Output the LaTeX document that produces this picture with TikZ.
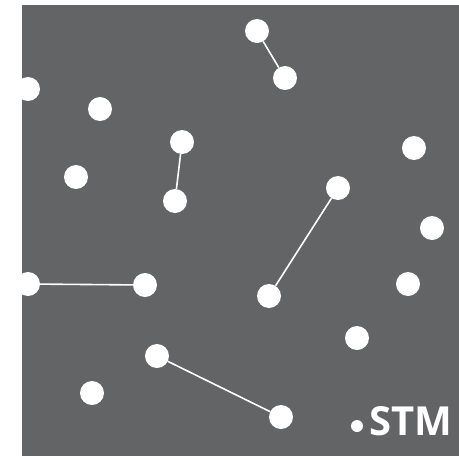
\documentclass[tikz,border=0pt]{standalone}
\usepackage{fontspec}
\setsansfont{Open Sans}
\usetikzlibrary{positioning}
\definecolor{slate}{RGB}{99,100,102}
\tikzset{
  dot/.style={circle, fill=white, inner sep=0pt, minimum size=24pt},
  bond/.style={draw=white, line width=1.6pt}
}
\begin{document}
\begin{tikzpicture}[x=1pt,y=1pt]
      \useasboundingbox (0,0) rectangle (459,-456);
      \fill[slate] (22,-5) rectangle (459,-456);
      \begin{scope}
      \clip (22,-5) rectangle (459,-456);
      \node[dot] (a1) at (257,-31) {};
      \node[dot] (a2) at (285,-78) {};
      \node[dot] (b1) at (28,-89) {};
      \node[dot] (b2) at (100,-109) {};
      \node[dot] (c1) at (182,-142) {};
      \node[dot] (c2) at (175,-201) {};
      \node[dot] (b3) at (76,-177) {};
      \node[dot] (b4) at (414,-148) {};
      \node[dot] (d1) at (338,-188) {};
      \node[dot] (d2) at (269,-296) {};
      \node[dot] (b5) at (432,-228) {};
      \node[dot] (e1) at (28,-284) {};
      \node[dot] (e2) at (145,-285) {};
      \node[dot] (b6) at (408,-284) {};
      \node[dot] (b7) at (357,-338) {};
      \node[dot] (f1) at (157,-356) {};
      \node[dot] (f2) at (281,-417) {};
      \node[dot] (b8) at (92,-393) {};
      \draw[bond] (a1) -- (a2);
      \draw[bond] (c1) -- (c2);
      \draw[bond] (d1) -- (d2);
      \draw[bond] (e1) -- (e2);
      \draw[bond] (f1) -- (f2);
      \end{scope}
      \node[circle, fill=white, inner sep=0pt, minimum size=12pt] (tip) at (357,-426) {};
      \node[right=6pt of tip, yshift=5pt, inner sep=0pt, text=white, font=\sffamily\bfseries\fontsize{40}{40}\selectfont] (stm) {STM};
    \end{tikzpicture}
\end{document}
